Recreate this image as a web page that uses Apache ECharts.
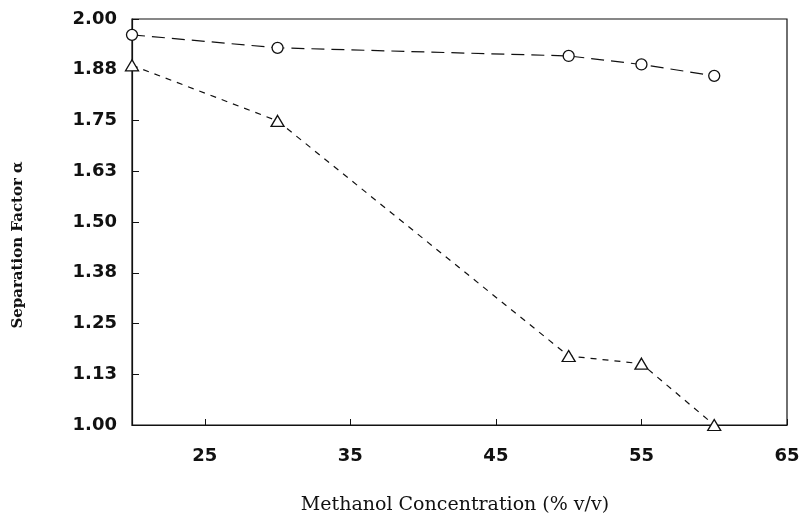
<!DOCTYPE html>
<html>
<head>
<meta charset="utf-8">
<script src="https://cdn.jsdelivr.net/npm/echarts@6/dist/echarts.min.js"></script>
<style>html,body{margin:0;padding:0;background:#fff}#c{width:803px;height:521px}</style>
</head>
<body>
<div id="c"></div>
<script>
const INK='#111';
const SANS="'DejaVu Sans',Arial,sans-serif";
const SERIF="'DejaVu Serif','Liberation Serif',serif";

// methanol % v/v
const methanol=[20,30,50,55,60];
const circleAlpha=[1.961,1.929,1.909,1.888,1.860];
const triangleAlpha=[1.886,1.749,1.170,1.151,1.000];
const xTicks=[25,35,45,55,65];
const yTicks=[1,1.125,1.25,1.375,1.5,1.625,1.75,1.875,2];

const pairs=(xs,ys)=>xs.map((x,i)=>[x,ys[i]]);

const chart=echarts.init(document.getElementById('c'));
chart.setOption({
  animation:false,
  grid:{left:132,right:16,top:19,bottom:96,show:true,borderColor:INK,borderWidth:1.2,backgroundColor:'transparent'},
  xAxis:{type:'value',min:20,max:65,
    axisLine:{lineStyle:{color:INK,width:1.2}},
    axisTick:{inside:true,length:6,customValues:xTicks,lineStyle:{color:INK}},
    axisLabel:{customValues:xTicks,margin:22,fontFamily:SANS,fontWeight:'bold',fontSize:18,color:INK},
    splitLine:{show:false}},
  yAxis:{type:'value',min:1,max:2,
    axisLine:{show:true,lineStyle:{color:INK,width:1.2}},
    axisTick:{show:true,inside:true,length:7,customValues:yTicks,lineStyle:{color:INK}},
    axisLabel:{customValues:yTicks,margin:15,fontFamily:SANS,fontWeight:'bold',fontSize:18,color:INK,formatter:v=>v.toFixed(2)},
    splitLine:{show:false}},
  graphic:[
    {type:'text',x:455,y:505,style:{text:'Methanol Concentration (% v/v)',fontFamily:SERIF,fontSize:19,fill:INK,align:'center',verticalAlign:'middle'}},
    {type:'text',x:18,y:245,rotation:Math.PI/2,style:{text:'Separation Factor α',fontFamily:SERIF,fontWeight:'bold',fontSize:15,fill:INK,align:'center',verticalAlign:'middle'}}
  ],
  series:[
    {type:'line',data:pairs(methanol,circleAlpha),clip:false,
      symbol:'circle',symbolSize:11,
      itemStyle:{color:'#fff',borderColor:INK,borderWidth:1.3},
      lineStyle:{color:INK,width:1.2,type:[13,7]}},
    {type:'line',data:pairs(methanol,triangleAlpha),clip:false,
      symbol:'triangle',symbolSize:[13,11],
      itemStyle:{color:'#fff',borderColor:INK,borderWidth:1.3},
      lineStyle:{color:INK,width:1.2,type:[6,6]}}
  ]
});
</script>
</body>
</html>
